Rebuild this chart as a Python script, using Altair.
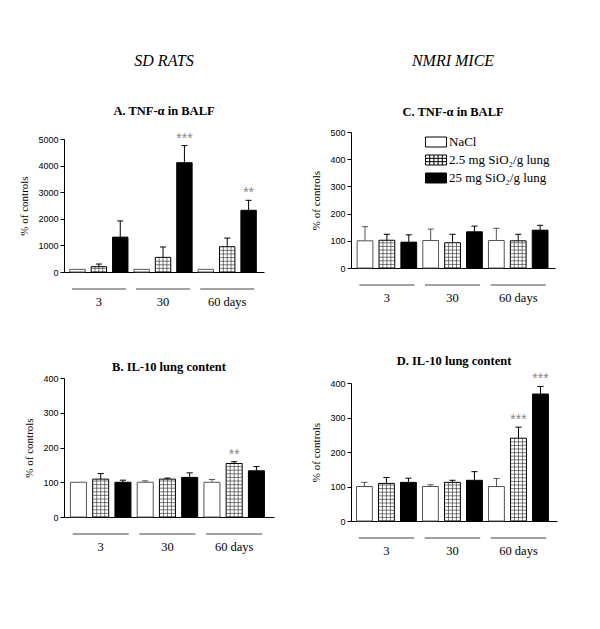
import altair as alt
import pandas as pd

SERIF = "Liberation Serif"
SANS = "Liberation Sans"

groups = ["3", "30", "60 days"]
treatments = ["NaCl", "2.5 mg SiO₂/g lung", "25 mg SiO₂/g lung"]

# A. TNF-alpha in BALF (SD rats)
a_vals = [100, 200, 1310, 100, 550, 4110, 100, 950, 2320]
a_errs = [0, 100, 610, 0, 390, 640, 0, 325, 375]
a_stars = ["", "", "", "", "", "***", "", "", "**"]
a_ticks = [0, 1000, 2000, 3000, 4000, 5000]

# B. IL-10 lung content (SD rats)
b_vals = [100, 109, 100, 100, 109, 114, 100, 154, 133]
b_errs = [0, 16, 6, 4, 3, 13, 8, 5, 12]
b_stars = ["", "", "", "", "", "", "", "**", ""]
b_ticks = [0, 100, 200, 300, 400]

# C. TNF-alpha in BALF (NMRI mice)
c_vals = [100, 102, 95, 101, 93, 133, 101, 100, 139]
c_errs = [52, 22, 27, 42, 31, 21, 45, 24, 18]
c_stars = ["", "", "", "", "", "", "", "", ""]
c_ticks = [0, 100, 200, 300, 400, 500]

# D. IL-10 lung content (NMRI mice)
d_vals = [100, 109, 112, 100, 112, 118, 100, 240, 368]
d_errs = [12, 17, 12, 5, 6, 25, 23, 32, 22]
d_stars = ["", "", "", "", "", "", "", "***", "***"]
d_ticks = [0, 100, 200, 300, 400]

FILLS = ["white", "white", "black"]
STROKES = ["#555555", "black", "black"]
HALF = 0.36
CAP = 0.14
HATCH_PX = 3.6

# legend symbol paths (wide boxes; grid for the hatched one)
BOX = "M-1.235,-0.588H1.235V0.588H-1.235Z"
GRID = (BOX + " M-0.741,-0.588V0.588 M-0.247,-0.588V0.588 M0.247,-0.588V0.588 M0.741,-0.588V0.588"
        " M-1.235,-0.196H1.235 M-1.235,0.196H1.235")
SHAPES = [BOX, GRID, BOX]


def panel(title, vals, errs, stars, ticks, width, height, xdom, toffset, legend=False):
    ymax = ticks[-1]
    tlist = [t for _ in groups for t in treatments]
    bars = pd.DataFrame({
        "pos": list(range(9)),
        "group": [g for g in groups for _ in treatments],
        "treatment": tlist,
        "value": vals, "err": errs, "star": stars,
    })
    bars["fc"] = [FILLS[treatments.index(t)] for t in tlist]
    bars["sc"] = [STROKES[treatments.index(t)] for t in tlist]
    bars["zero"] = 0
    bars["x0"] = bars["pos"] - HALF
    bars["x1"] = bars["pos"] + HALF
    bars["top"] = bars["value"] + bars["err"]
    bars["c0"] = bars["pos"] - CAP
    bars["c1"] = bars["pos"] + CAP
    errd = bars[bars["err"] > 0]
    stard = bars[bars["star"] != ""]

    hatched = bars[bars["treatment"] == treatments[1]]
    vlines = pd.DataFrame([
        {"xh": r.x0 + k * 2 * HALF / 4, "zero": 0, "value": r.value}
        for r in hatched.itertuples() for k in (1, 2, 3)
    ])
    step = HATCH_PX * ymax / height
    hl = []
    for r in hatched.itertuples():
        k = 1
        while k * step < r.value - step * 0.4:
            hl.append({"x0": r.x0, "x1": r.x1, "yh": k * step})
            k += 1
    hlines = pd.DataFrame(hl)

    grp = pd.DataFrame({
        "group": groups,
        "g0": [3 * i - HALF + 0.1 for i in range(3)],
        "g1": [3 * i + 2 + HALF - 0.1 for i in range(3)],
        "gc": [3 * i + 1 for i in range(3)],
    })

    xs = alt.Scale(domain=xdom, nice=False, zero=False)
    xa = alt.Axis(labels=False, ticks=False, grid=False, title=None,
                  domainColor="black", domainWidth=1)
    ys = alt.Scale(domain=[0, ymax], nice=False)
    ya = alt.Axis(values=ticks, format="d", title="% of controls", grid=False,
                  titleFont=SERIF, titleFontSize=11, titleFontWeight="normal",
                  titleColor="black", labelFont=SANS, labelFontSize=9,
                  labelColor="black", tickSize=4, tickColor="black",
                  domainColor="black", labelPadding=2, titlePadding=8)

    def X(f):
        return alt.X(f, type="quantitative", scale=xs, axis=xa)

    def Y(f):
        return alt.Y(f, type="quantitative", scale=ys, axis=ya)

    fill = alt.Fill("fc:N", scale=None)
    stroke = alt.Stroke("sc:N", scale=None)

    l_bars = alt.Chart(bars).mark_rect(strokeWidth=1).encode(
        x=X("x0"), x2="x1", y=Y("value"), y2="zero", fill=fill, stroke=stroke)
    l_vh = alt.Chart(vlines).mark_rule(color="#222222", strokeWidth=0.6).encode(
        x=X("xh"), y=Y("zero"), y2="value")
    l_hh = alt.Chart(hlines).mark_rule(color="#222222", strokeWidth=0.6).encode(
        x=X("x0"), x2="x1", y=Y("yh"))
    l_err = alt.Chart(errd).mark_rule(strokeWidth=1).encode(
        x=X("pos"), y=Y("value"), y2="top", stroke=stroke)
    l_cap = alt.Chart(errd).mark_rule(strokeWidth=1).encode(
        x=X("c0"), x2="c1", y=Y("top"), stroke=stroke)
    l_star = alt.Chart(stard).mark_text(baseline="bottom", dy=0, font=SANS,
                                        fontSize=14, color="#888888").encode(
        x=X("pos"), y=Y("top"), text="star:N")
    l_gline = alt.Chart(grp).mark_rule(color="#444444", strokeWidth=1).encode(
        x=X("g0"), x2="g1", y=alt.value(height + 17))
    l_glab = alt.Chart(grp).mark_text(font=SERIF, fontSize=12.5, color="black",
                                      baseline="middle").encode(
        x=X("gc"), y=alt.value(height + 30), text="group:N")

    layers = [l_bars, l_vh, l_hh, l_err, l_cap, l_star, l_gline, l_glab]
    if legend:
        leg = alt.Legend(title=None, orient="none", legendX=76, legendY=1,
                         symbolSize=289, symbolStrokeColor="black", symbolStrokeWidth=1,
                         symbolOpacity=1, labelFont=SERIF, labelFontSize=13,
                         labelColor="black", labelOffset=4, rowPadding=2,
                         labelLimit=400)
        l_leg = alt.Chart(bars).mark_point(filled=True, opacity=0).encode(
            x=X("pos"), y=Y("value"),
            shape=alt.Shape("treatment:N", scale=alt.Scale(domain=treatments, range=SHAPES), legend=leg),
            fill=alt.Fill("treatment:N", scale=alt.Scale(domain=treatments, range=FILLS), legend=leg),
            stroke=alt.Stroke("treatment:N", scale=alt.Scale(domain=treatments, range=["black", "black", "black"]), legend=leg),
        )
        layers.append(l_leg)

    tp = alt.TitleParams(title, font=SERIF, fontSize=12.5, fontWeight="bold",
                         color="black", anchor="middle", offset=toffset)
    return alt.layer(*layers).properties(width=width, height=height, title=tp)


def header(text, width):
    hd = pd.DataFrame({"h": [text]})
    return alt.Chart(hd).mark_text(font=SERIF, fontSize=16, fontStyle="italic",
                                   color="black", baseline="middle").encode(
        text="h:N", x=alt.value(width / 2), y=alt.value(8)
    ).properties(width=width, height=16)


pA = panel("A. TNF-α in BALF", a_vals, a_errs, a_stars, a_ticks, 200, 133, [-0.63, 8.72], 14)
pB = panel("B. IL-10 lung content", b_vals, b_errs, b_stars, b_ticks, 210, 139, [-0.65, 8.79], 1)
pC = panel("C. TNF-α in BALF", c_vals, c_errs, c_stars, c_ticks, 204, 136, [-0.64, 8.68], 10,
           legend=True)
pD = panel("D. IL-10 lung content", d_vals, d_errs, d_stars, d_ticks, 206, 138, [-0.61, 8.75], 5)

RES = dict(x="independent", y="independent", fill="independent", shape="independent",
           stroke="independent")

col1 = alt.vconcat(
    header("SD RATS", 200),
    alt.vconcat(pA, pB, spacing=51).resolve_scale(x="independent", y="independent"),
    spacing=36,
).resolve_scale(x="independent", y="independent")
col2 = alt.vconcat(
    header("NMRI MICE", 204),
    alt.vconcat(pC, pD, spacing=49).resolve_scale(**RES),
    spacing=36,
).resolve_scale(**RES)

chart = alt.hconcat(col1, col2, spacing=36).resolve_scale(**RES).properties(
    padding={"left": 10, "top": 45, "right": 5, "bottom": 5},
    background="white",
).configure_view(stroke=None)

chart.save("out.html", embed_options={"renderer": "svg", "actions": False})
